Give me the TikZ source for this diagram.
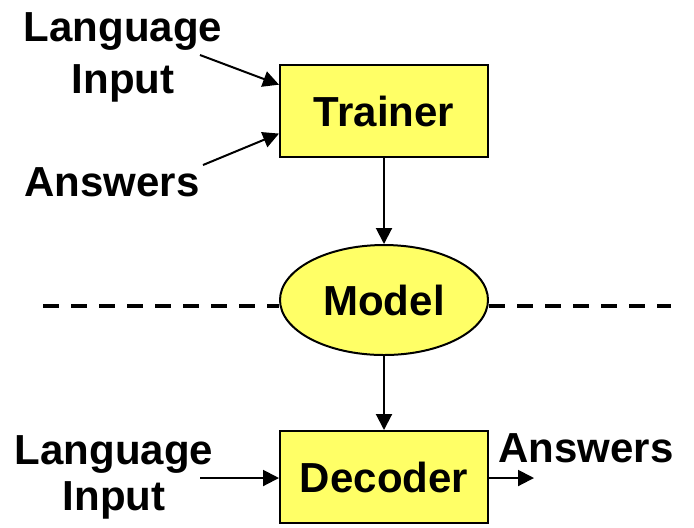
\documentclass[tikz,border=0pt]{standalone}
\usepackage{fontspec}
\setmainfont{Liberation Sans}
\usetikzlibrary{arrows.meta,positioning,shapes.geometric,calc}
\definecolor{boxyellow}{RGB}{255,255,102}

\begin{document}
\begin{tikzpicture}[x=0.5pt,y=-0.5pt,
  font=\fontsize{21}{26}\selectfont\bfseries, >={Triangle[length=8pt,width=8pt]},
  blk/.style={draw,line width=1pt,fill=boxyellow,minimum width=104pt,minimum height=46pt,inner sep=0pt},
  oval/.style={blk,ellipse,minimum height=55pt},
  lbl/.style={align=center,inner sep=0pt},
  link/.style={->,line width=1pt}]
  \useasboundingbox (0,0) rectangle (694,527);
  \node[blk] (trainer) at (384,111) {Trainer};
  \node[oval,below=43pt of trainer] (model) {\raisebox{-3.5pt}{Model}};
  \node[blk,below=37pt of model] (decoder) {\raisebox{-2.75pt}{Decoder}};
  % inputs and outputs
  \node[lbl] (langtop) at (123,57) {Language\\Input};
  \node[lbl] (anstop) at (112,182) {Answers};
  \node[lbl,font=\fontsize{21}{23}\selectfont\bfseries] (langbot) at (114,477) {Language\\Input};
  \node[lbl] (ansbot) at (586,448) {Answers};
  \coordinate (langin) at (200,55);
  \coordinate (ansin) at (203,165);
  \coordinate (decin) at (200,478);
  \coordinate (decout) at (534,478);
  \coordinate (dashl) at (43,306);
  \coordinate (dashr) at (671,306);
  \draw[link] (langin) -- ($(trainer.north west)!0.22!(trainer.south west)$);
  \draw[link] (ansin) -- ($(trainer.north west)!0.74!(trainer.south west)$);
  \draw[link] (trainer) -- (model);
  \draw[link] (model) -- (model |- decoder.north);
  \draw[link] (decin) -- (decin -| decoder.west);
  \draw[link] (decout -| decoder.east) -- (decout);
  % training / decoding split
  \draw[line width=2pt,dash pattern=on 8pt off 6pt] (dashl) -- (dashl -| model.west);
  \draw[line width=2pt,dash pattern=on 8pt off 6pt] (dashr -| model.east) -- (dashr);
\end{tikzpicture}
\end{document}
